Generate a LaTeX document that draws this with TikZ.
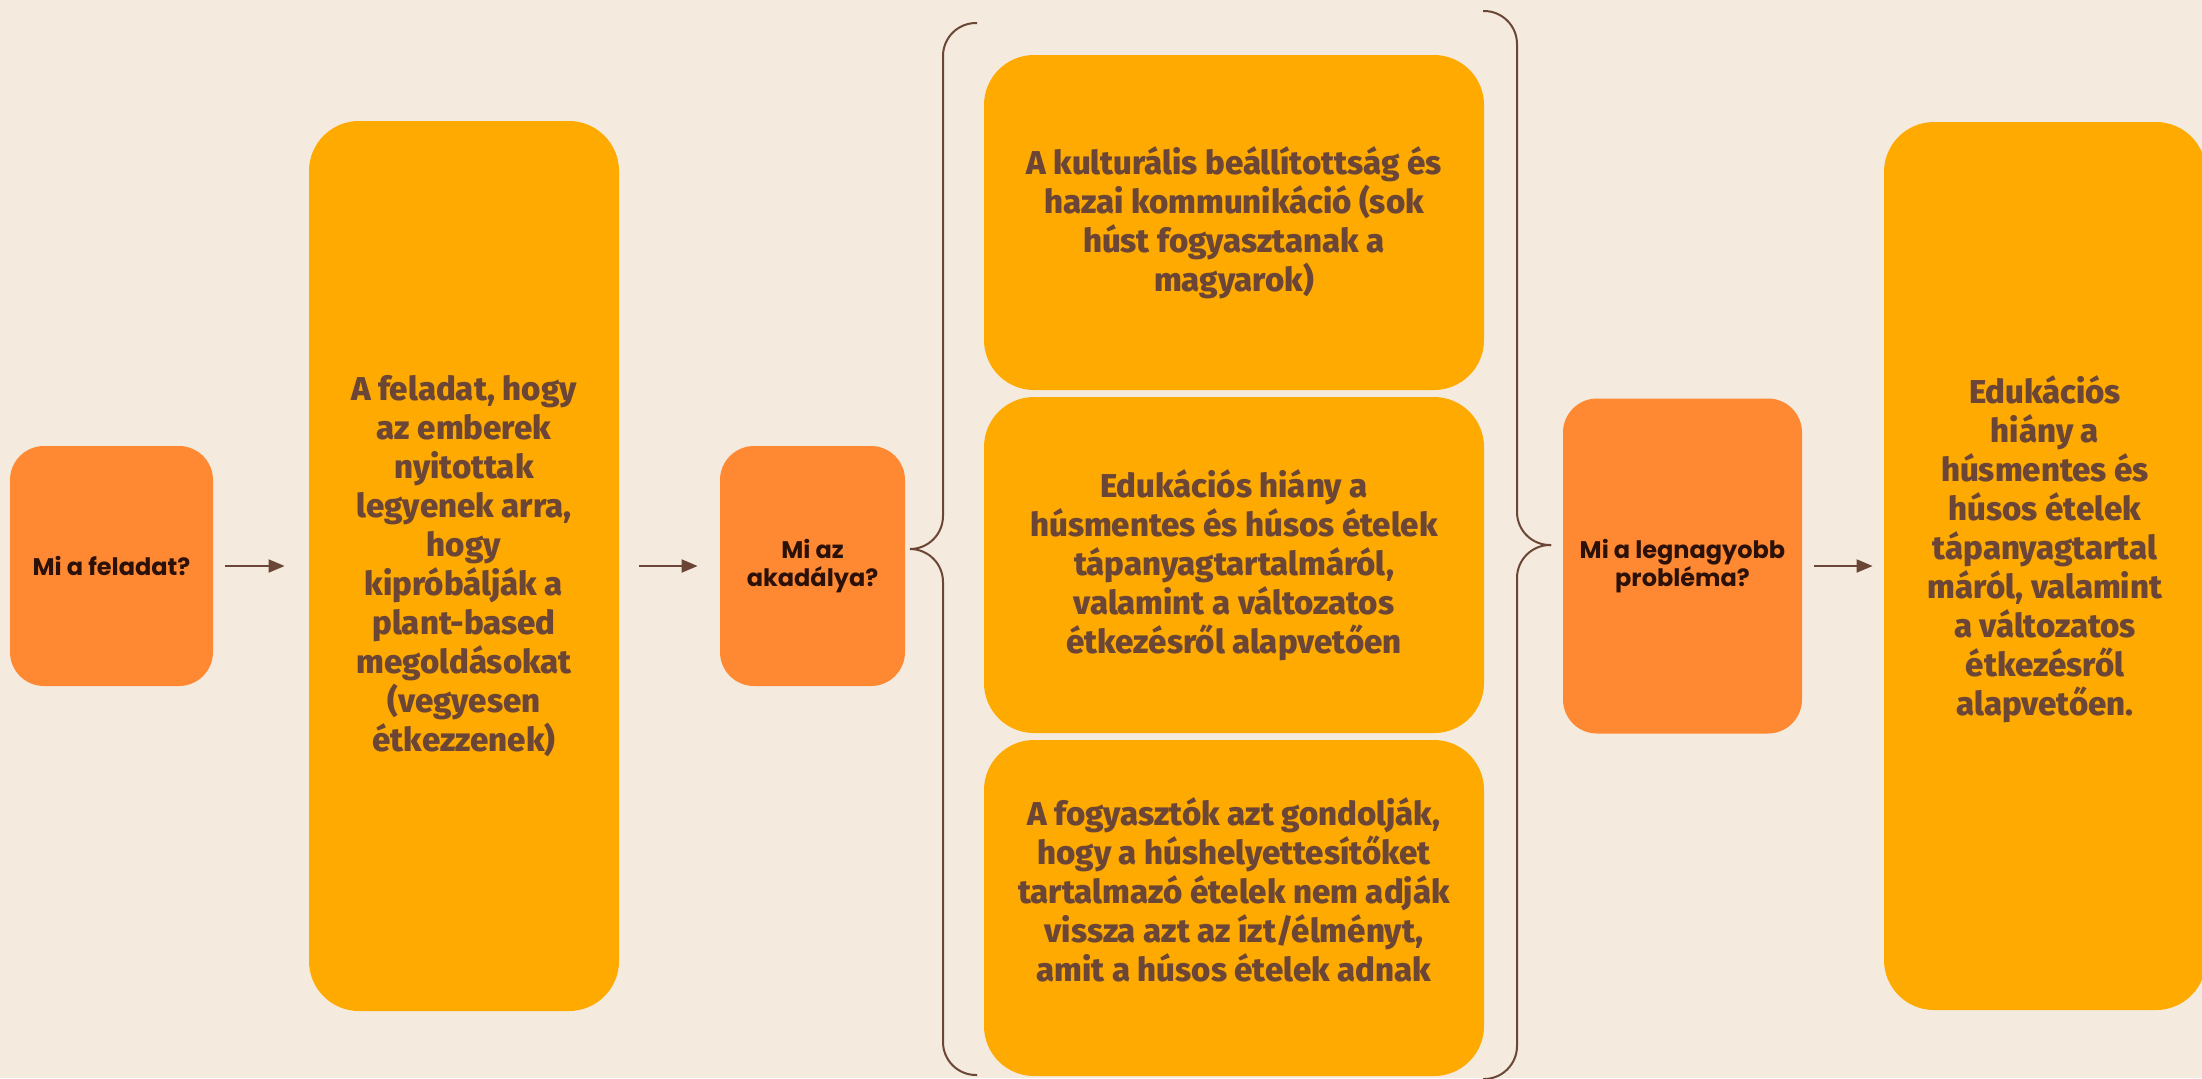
\documentclass[tikz,border=0pt]{standalone}
\usepackage{fontspec}
\setmainfont{Poppins}
\newfontfamily\yfont{Fira Sans}[BoldFont={Fira Sans ExtraBold}]
\usetikzlibrary{positioning, arrows.meta}

\definecolor{bgcream}{HTML}{F4EBDE}
\definecolor{qorange}{HTML}{FF8833}
\definecolor{ayellow}{HTML}{FFAA00}
\definecolor{abrown}{HTML}{6B4636}
\definecolor{qdark}{HTML}{2B1108}

\begin{document}
\begin{tikzpicture}[
    x=0.5pt, y=-0.5pt,
    question/.style={rectangle, rounded corners=17pt, fill=qorange, text=qdark, align=center, font=\bfseries\fontsize{12}{14}\selectfont},
    answer/.style={rectangle, rounded corners=25pt, fill=ayellow, text=abrown, align=center, font=\yfont\bfseries\fontsize{16.5}{19.5}\selectfont},
    arrow/.style={-{Triangle[length=8pt, width=6.5pt]}, line width=1pt, draw=abrown},
    brace/.style={line width=1pt, draw=abrown, rounded corners=16.5pt}
]

% Background
\useasboundingbox (0,0) rectangle (2202,1078);
\clip (0,0) rectangle (2202,1078);
\fill[bgcream] (0,0) rectangle (2202,1078);

% Questions
\node[question, minimum width=101.5pt, minimum height=120pt] (q1) at (111.5,566) {Mi a feladat?};
\node[question, minimum width=92.5pt, minimum height=120pt] (q2) at (812.5,566) {Mi az\\akadálya?};
\node[question, minimum width=119.5pt, minimum height=167.5pt] (q3) at (1682.5,566) {Mi a legnagyobb\\probléma?};

% Task
\node[answer, minimum width=155pt, minimum height=445pt] (task) at (464,566)
    {A feladat, hogy\\az emberek\\nyitottak\\legyenek arra,\\hogy\\kipróbálják a\\plant-based\\megoldásokat\\(vegyesen\\étkezzenek)};

% Obstacles
\node[answer, minimum width=250pt, minimum height=167.5pt] (obst1) at (1234,222.5)
    {A kulturális beállítottság és\\hazai kommunikáció (sok\\húst fogyasztanak a\\magyarok)};
\node[answer, minimum width=250pt, minimum height=168pt] (obst2) at (1234,565)
    {Edukációs hiány a\\húsmentes és húsos ételek\\tápanyagtartalmáról,\\valamint a változatos\\étkezésről alapvetően};
\node[answer, minimum width=250pt, minimum height=168pt] (obst3) at (1234,908)
    {A fogyasztók azt gondolják,\\hogy a húshelyettesítőket\\tartalmazó ételek nem adják\\vissza azt az ízt/élményt,\\amit a húsos ételek adnak\\[-1pt]\mbox{}};

% Biggest problem
\node[answer, minimum width=161pt, minimum height=444pt] (problem) at (2045,566)
    {Edukációs\\hiány a\\húsmentes és\\húsos ételek\\tápanyagtartal\\máról, valamint\\a változatos\\étkezésről\\alapvetően.\\[1pt]\mbox{}};

% Arrows
\draw[arrow, shorten <=6pt, shorten >=12pt] (q1) -- (task);
\draw[arrow, shorten <=10pt, shorten >=11pt] (task) -- (q2);
\draw[arrow, shorten <=6pt, shorten >=5.5pt] (q3) -- (problem);

% Braces
\draw[brace] (977,23) -| (943,549) -- (910,549);
\draw[brace] (977,1075) -| (943,549) -- (910,549);
\draw[brace] (1483,11) -| (1517,545) -- (1551,545);
\draw[brace] (1483,1079) -| (1517,545) -- (1551,545);

\end{tikzpicture}
\end{document}
